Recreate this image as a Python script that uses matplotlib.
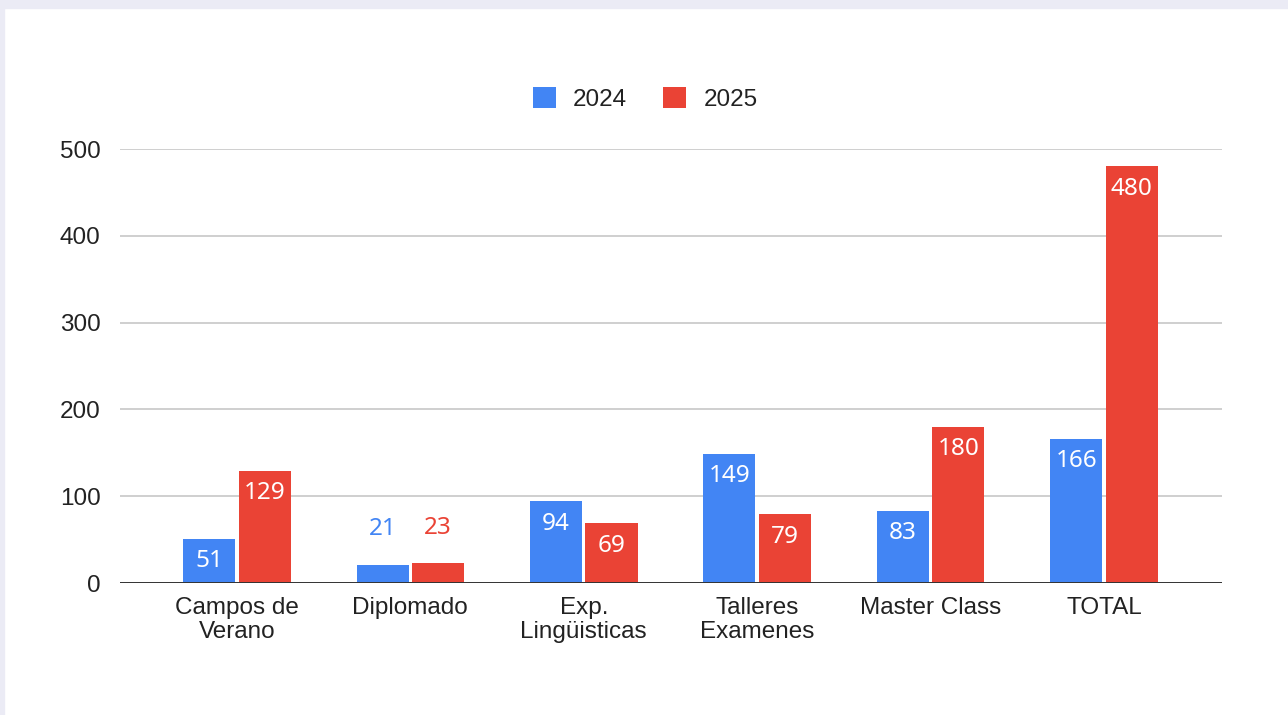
import matplotlib.pyplot as plt
import numpy as np

# ========= data =========
categories = ["Campos de\nVerano", "Diplomado", "Exp.\nLingüisticas",
              "Talleres\nExamenes", "Master Class", "TOTAL"]
series_names = ["2024", "2025"]
values_2024 = [51, 21, 94, 149, 83, 166]
values_2025 = [129, 23, 69, 79, 180, 480]
y_ticks = [0, 100, 200, 300, 400, 500]

blue = "#4285F4"
red = "#EA4335"

fig = plt.figure(figsize=(12.88, 7.15), dpi=100)
fig.patch.set_facecolor("white")
# lavender frame on top / left edges
fig.add_artist(plt.Rectangle((0, 1 - 8 / 715), 1, 8 / 715, transform=fig.transFigure,
                             color="#EBEBF5", zorder=0))
fig.add_artist(plt.Rectangle((0, 0), 4 / 1288, 1, transform=fig.transFigure,
                             color="#EBEBF5", zorder=0))

ax = fig.add_axes([120 / 1288, 1 - 583 / 715, 1102 / 1288, 434 / 715])
x = np.arange(len(categories))
w = 0.30
off = 0.16

b1 = ax.bar(x - off, values_2024, w, color=blue, label=series_names[0], zorder=3)
b2 = ax.bar(x + off, values_2025, w, color=red, label=series_names[1], zorder=3)

ax.set_xlim(-0.674, len(categories) - 1 + 0.68)
ax.set_ylim(0, 500)
ax.set_yticks(y_ticks)
ax.set_yticklabels([str(t) for t in y_ticks], fontsize=17.5, family="Liberation Sans",
                   color="#222222")
ax.set_xticks(x)
ax.set_xticklabels(categories, fontsize=17.5, family="Liberation Sans", color="#222222",
                   linespacing=1.15)
ax.tick_params(axis="both", length=0)
ax.tick_params(axis="y", pad=14)
ax.tick_params(axis="x", pad=10)

ax.grid(axis="y", color="#CCCCCC", linewidth=1.3, zorder=0)
ax.axhline(0, color="#333333", linewidth=1.4, zorder=4)
for s in ax.spines.values():
    s.set_visible(False)

# data labels: inside bar top, above if bar too short
for bars, vals, col in [(b1, values_2024, blue), (b2, values_2025, red)]:
    for rect, v in zip(bars, vals):
        cx = rect.get_x() + rect.get_width() / 2
        if v >= 40:
            ax.text(cx, v - 12, str(v), ha="center", va="top", color="white",
                    fontsize=17.5, family="Noto Sans", zorder=5)
        else:
            ax.text(cx, v + 27, str(v), ha="center", va="bottom", color=col,
                    fontsize=17.5, family="Noto Sans", zorder=5)

leg = fig.legend(handles=[b1, b2], labels=series_names, loc="center",
                 bbox_to_anchor=(645 / 1288, 1 - 99 / 715), ncol=2, frameon=False,
                 prop={"family": "Liberation Sans", "size": 17.5},
                 handlelength=0.95, handleheight=0.95, handletextpad=0.7,
                 columnspacing=1.5)
for t in leg.get_texts():
    t.set_color("#222222")

fig.savefig("out.png", dpi=100, facecolor=fig.get_facecolor())
